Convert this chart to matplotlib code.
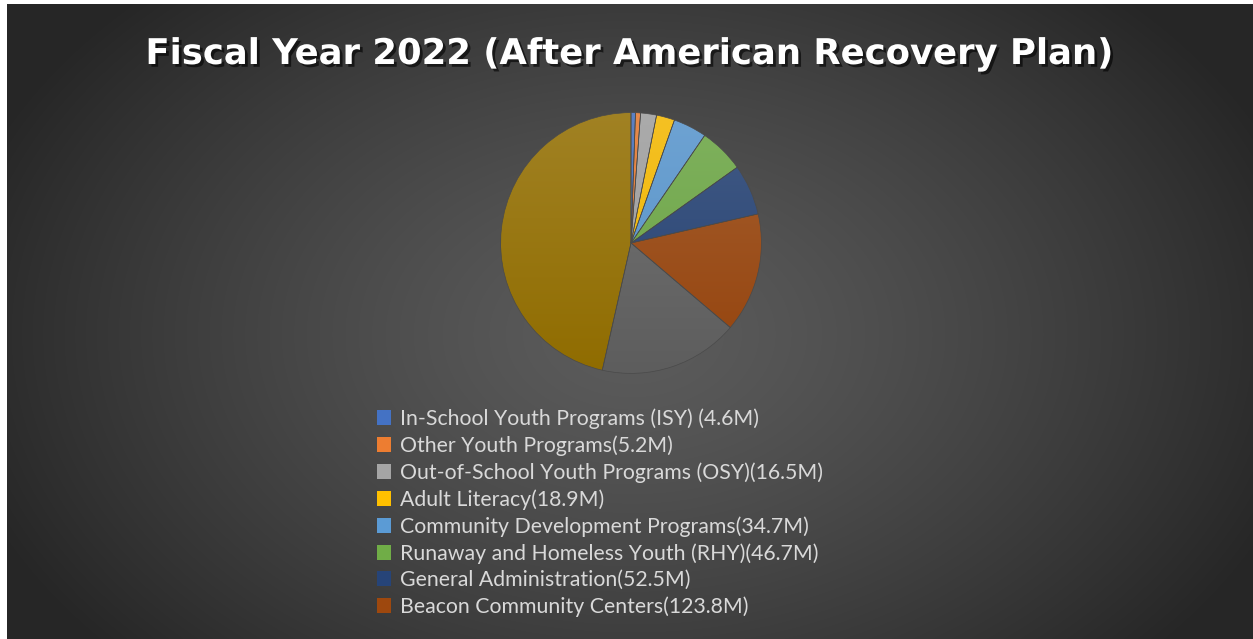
import numpy as np
import matplotlib
matplotlib.use("Agg")
import matplotlib.pyplot as plt
import matplotlib.patheffects as pe
from matplotlib.colors import LinearSegmentedColormap, to_rgb
from matplotlib.patches import Patch

W, H = 1253, 639

# data (last two slices are not listed in the legend)
labels = [
    "In-School Youth Programs (ISY) (4.6M)",
    "Other Youth Programs(5.2M)",
    "Out-of-School Youth Programs (OSY)(16.5M)",
    "Adult Literacy(18.9M)",
    "Community Development Programs(34.7M)",
    "Runaway and Homeless Youth (RHY)(46.7M)",
    "General Administration(52.5M)",
    "Beacon Community Centers(123.8M)",
    "Other (gray)",
    "Other (gold)",
]
values = [4.6, 5.2, 16.5, 18.9, 34.7, 46.7, 52.5, 123.8, 144.7, 388.5]
n_legend = 8

colors = ["#4472C4", "#ED7D31", "#A5A5A5", "#FFC000", "#5B9BD5",
          "#70AD47", "#264478", "#9E480E", "#636363", "#997300"]

fig = plt.figure(figsize=(W / 100, H / 100), dpi=100)
fig.patch.set_facecolor("white")

# background with radial gradient
bg = fig.add_axes([7 / W, 0, 1 - 7 / W, 1 - 4 / H])
bg.set_axis_off()
yy, xx = np.mgrid[0:H - 4, 0:W - 7]
cx, cy = 625, 330
d = np.sqrt(((xx - cx) / 700.0) ** 2 + ((yy - cy) / 480.0) ** 2)
d = np.clip(d, 0, 1)
lum = 0.36 - (0.36 - 0.15) * d ** 1.3
bg.imshow(np.dstack([lum, lum, lum]), aspect="auto", extent=[0, 1, 0, 1])
bg.set_xlim(0, 1)
bg.set_ylim(0, 1)

# pie
pcx, pcy, r = 631, 243, 133
ax = fig.add_axes([(pcx - r) / W, (H - pcy - r) / H, 2 * r / W, 2 * r / H])
wedges, _ = ax.pie(values, colors=colors, startangle=90, counterclock=False,
                   radius=1,
                   wedgeprops=dict(edgecolor="#4a4a4a", linewidth=0.5))
grad = np.linspace(0, 1, 256).reshape(-1, 1)
for w, c in zip(wedges, colors):
    base = np.array(to_rgb(c))
    # lighter at the top, like the office gradient fill
    light = base * 0.82 + np.array([0.55, 0.55, 0.55]) * 0.18 + 0.04
    light = np.clip(light, 0, 1)
    dark = base * 0.94
    cmap = LinearSegmentedColormap.from_list("g", [light, dark])
    im = ax.imshow(grad, cmap=cmap, extent=[-1, 1, -1, 1], origin="upper",
                   aspect="auto", zorder=w.get_zorder() + 0.1)
    im.set_clip_path(w)
for w in wedges:
    w.set_facecolor("none")
    w.set_zorder(5)
ax.set_xlim(-1.02, 1.02)
ax.set_ylim(-1.02, 1.02)
ax.set_axis_off()

# title
fig.text(629 / W, 1 - 54 / H, "Fiscal Year 2022 (After American Recovery Plan)",
         ha="center", va="center", color="white", fontsize=25.5,
         fontweight="bold", family="DejaVu Sans",
         path_effects=[pe.SimplePatchShadow(offset=(2, -2), shadow_rgbFace="black", alpha=0.6),
                       pe.Normal()])

handles = [Patch(facecolor=colors[i], edgecolor="none") for i in range(n_legend)]
leg = fig.legend(handles, labels[:n_legend], loc="upper left",
                 bbox_to_anchor=(368 / W, 1 - 400 / H), frameon=False,
                 prop=dict(family="Lato", size=15.3), labelcolor="#D9D9D9",
                 handlelength=0.7, handleheight=0.7, handletextpad=0.4,
                 labelspacing=0.30, borderaxespad=0)

fig.savefig("out.png", dpi=100, facecolor=fig.get_facecolor())
